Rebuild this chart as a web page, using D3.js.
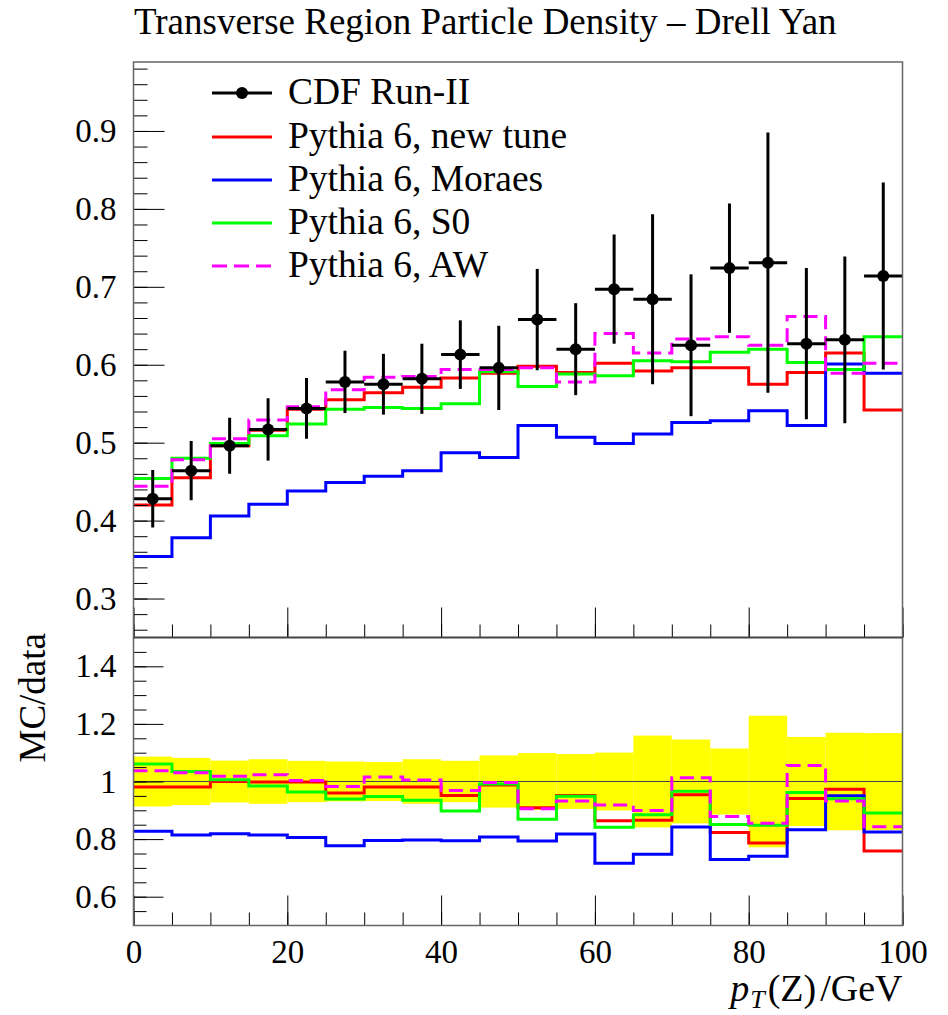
<!DOCTYPE html>
<html>
<head>
<meta charset="utf-8">
<script src="https://cdn.jsdelivr.net/npm/d3@7"></script>
<style>
  body { margin: 0; background: #fff; }
  svg text { font-family: "Liberation Serif", "DejaVu Serif", serif; fill: #000; }
</style>
</head>
<body>
<div id="chart"></div>
<script>
// pT(Z) bins, GeV
const binEdges = [0, 5, 10, 15, 20, 25, 30, 35, 40, 45, 50, 55, 60, 65, 70, 75, 80, 85, 90, 95, 100];

// CDF Run-II data
const dataVal = [0.428, 0.464, 0.496, 0.517, 0.544, 0.578, 0.575, 0.582, 0.613, 0.596,
                 0.658, 0.620, 0.697, 0.684, 0.625, 0.724, 0.731, 0.627, 0.632, 0.714];
const dataErr = [0.037, 0.038, 0.036, 0.040, 0.039, 0.040, 0.039, 0.045, 0.044, 0.054,
                 0.065, 0.059, 0.070, 0.109, 0.091, 0.083, 0.167, 0.097, 0.107, 0.120];

// MC predictions
const newTune = [0.420, 0.455, 0.496, 0.516, 0.543, 0.555, 0.564, 0.571, 0.583, 0.589,
                 0.598, 0.590, 0.602, 0.592, 0.596, 0.596, 0.575, 0.590, 0.615, 0.542];
const moraes  = [0.354, 0.378, 0.406, 0.421, 0.438, 0.449, 0.457, 0.464, 0.487, 0.481,
                 0.522, 0.507, 0.499, 0.511, 0.526, 0.528, 0.541, 0.522, 0.601, 0.589];
const s0      = [0.454, 0.480, 0.499, 0.509, 0.524, 0.543, 0.545, 0.544, 0.550, 0.591,
                 0.572, 0.588, 0.586, 0.605, 0.604, 0.616, 0.620, 0.603, 0.594, 0.636];
const aw      = [0.444, 0.478, 0.505, 0.529, 0.546, 0.568, 0.584, 0.585, 0.594, 0.594,
                 0.596, 0.578, 0.640, 0.615, 0.633, 0.636, 0.625, 0.662, 0.589, 0.602];

const seriesNames  = ["Pythia 6, new tune", "Pythia 6, Moraes", "Pythia 6, S0", "Pythia 6, AW"];
const seriesColors = ["#ff0000", "#0000ff", "#00ff00", "#ff00ff"];
const seriesVals   = [newTune, moraes, s0, aw];

const mainTicks  = [0.3, 0.4, 0.5, 0.6, 0.7, 0.8, 0.9];
const ratioTicks = [0.6, 0.8, 1, 1.2, 1.4];
const xTicks     = [0, 20, 40, 60, 80, 100];

const W = 948, H = 1015;
const L = 133.5, R = 902.5, T = 62, MID = 637.5, B = 925.5;

const x  = d3.scaleLinear([0, 100], [L, R]);
const yM = d3.scaleLinear([0.25, 0.9885], [MID, T]);
const yR = d3.scaleLinear([0.5, 1.5], [B, MID]);

const svg = d3.select('#chart').append('svg')
  .attr('width', W).attr('height', H);

const defs = svg.append('defs');
defs.append('clipPath').attr('id', 'clipM')
  .append('rect').attr('x', L).attr('y', T).attr('width', R - L).attr('height', MID - T);
defs.append('clipPath').attr('id', 'clipR')
  .append('rect').attr('x', L).attr('y', MID).attr('width', R - L).attr('height', B - MID);

// step histogram through curveStepAfter
function histLine(y) {
  return d3.line()
    .x(d => x(d[0]))
    .y(d => y(d[1]))
    .curve(d3.curveStepAfter);
}
function histPoints(vals) {
  const pts = vals.map((v, i) => [binEdges[i], v]);
  pts.push([binEdges[binEdges.length - 1], vals[vals.length - 1]]);
  return pts;
}

// ---- ratio panel ----
const gR = svg.append('g').attr('clip-path', 'url(#clipR)');

gR.selectAll('rect.band')
  .data(dataVal)
  .join('rect')
  .attr('class', 'band')
  .attr('x', (d, i) => x(binEdges[i]))
  .attr('width', (d, i) => x(binEdges[i + 1]) - x(binEdges[i]))
  .attr('y', (d, i) => yR(1 + dataErr[i] / d))
  .attr('height', (d, i) => yR(1 - dataErr[i] / d) - yR(1 + dataErr[i] / d))
  .attr('fill', '#ffff00');

gR.append('line')
  .attr('x1', L).attr('x2', R).attr('y1', yR(1)).attr('y2', yR(1))
  .attr('stroke', '#444').attr('stroke-width', 1.2);

seriesVals.forEach((vals, k) => {
  const ratio = vals.map((v, i) => v / dataVal[i]);
  gR.append('path')
    .attr('d', histLine(yR)(histPoints(ratio)))
    .attr('fill', 'none')
    .attr('stroke', seriesColors[k])
    .attr('stroke-width', 3)
    .attr('stroke-dasharray', k === 3 ? '14,7' : null);
});

// ---- main panel ----
const gM = svg.append('g').attr('clip-path', 'url(#clipM)');

seriesVals.forEach((vals, k) => {
  gM.append('path')
    .attr('d', histLine(yM)(histPoints(vals)))
    .attr('fill', 'none')
    .attr('stroke', seriesColors[k])
    .attr('stroke-width', 3)
    .attr('stroke-dasharray', k === 3 ? '14,7' : null);
});

const pts = gM.append('g')
  .selectAll('g')
  .data(dataVal)
  .join('g');
pts.append('line')
  .attr('x1', (d, i) => x((binEdges[i] + binEdges[i + 1]) / 2))
  .attr('x2', (d, i) => x((binEdges[i] + binEdges[i + 1]) / 2))
  .attr('y1', (d, i) => yM(d - dataErr[i]))
  .attr('y2', (d, i) => yM(d + dataErr[i]))
  .attr('stroke', '#000').attr('stroke-width', 3);
pts.append('line')
  .attr('x1', (d, i) => x(binEdges[i]))
  .attr('x2', (d, i) => x(binEdges[i + 1]))
  .attr('y1', d => yM(d)).attr('y2', d => yM(d))
  .attr('stroke', '#000').attr('stroke-width', 3);
pts.append('circle')
  .attr('cx', (d, i) => x((binEdges[i] + binEdges[i + 1]) / 2))
  .attr('cy', d => yM(d))
  .attr('r', 6)
  .attr('fill', '#000');

// ---- axes ----
function styleAxis(g) {
  g.select('.domain').remove();
  g.selectAll('line').attr('stroke', '#000').attr('stroke-width', 1);
  g.selectAll('text')
    .attr('font-size', 33)
    .attr('fill', '#000');
  g.attr('font-family', null).attr('font-size', null);
}

const fmt = d3.format('~g');

// main y
svg.append('g').attr('transform', `translate(${L},0)`)
  .call(d3.axisLeft(yM).tickValues(d3.range(13, 50).map(i => i * 0.02)).tickSize(-14).tickFormat(''))
  .call(styleAxis);
svg.append('g').attr('transform', `translate(${L},0)`)
  .call(d3.axisLeft(yM).tickValues(mainTicks).tickSize(-31).tickPadding(17).tickFormat(fmt))
  .call(styleAxis);

// ratio y
svg.append('g').attr('transform', `translate(${L},0)`)
  .call(d3.axisLeft(yR).tickValues(d3.range(11, 30).map(i => i * 0.05)).tickSize(-13).tickFormat(''))
  .call(styleAxis);
svg.append('g').attr('transform', `translate(${L},0)`)
  .call(d3.axisLeft(yR).tickValues(ratioTicks).tickSize(-30).tickPadding(17).tickFormat(fmt))
  .call(styleAxis);

// x ticks on both panels
[MID, B].forEach((yy, j) => {
  svg.append('g').attr('transform', `translate(0,${yy})`)
    .call(d3.axisBottom(x).tickValues(d3.range(0, 21).map(i => i * 5)).tickSize(-13).tickFormat(''))
    .call(styleAxis);
  svg.append('g').attr('transform', `translate(0,${yy})`)
    .call(d3.axisBottom(x).tickValues(xTicks).tickSize(-30).tickPadding(j === 1 ? 14 : 0)
      .tickFormat(j === 1 ? fmt : ''))
    .call(styleAxis);
});

// frames
svg.append('rect')
  .attr('x', L).attr('y', T).attr('width', R - L).attr('height', B - T)
  .attr('fill', 'none').attr('stroke', '#666').attr('stroke-width', 1.5);
svg.append('line')
  .attr('x1', L).attr('x2', R).attr('y1', MID).attr('y2', MID)
  .attr('stroke', '#444').attr('stroke-width', 2);

// ---- labels ----
svg.append('text')
  .attr('x', 134).attr('y', 34)
  .attr('font-size', 37)
  .text('Transverse Region Particle Density \u2013 Drell Yan');

svg.append('text')
  .attr('transform', `translate(45,633) rotate(-90)`)
  .attr('text-anchor', 'end')
  .attr('font-size', 37)
  .text('MC/data');

const xl = svg.append('text')
  .attr('x', R).attr('y', 1001)
  .attr('text-anchor', 'end')
  .attr('font-size', 38);
xl.append('tspan').attr('font-style', 'italic').text('p');
xl.append('tspan').attr('font-style', 'italic').attr('font-size', 26).attr('dx', 1).attr('dy', 7).text('T');
xl.append('tspan').attr('dy', -7).attr('dx', 3).text('(Z)');
xl.append('tspan').attr('dx', 4).text('/GeV');

// ---- legend ----
const legRows = [93, 137, 180, 223, 266];
const leg = svg.append('g');
leg.append('line')
  .attr('x1', 212).attr('x2', 272).attr('y1', legRows[0]).attr('y2', legRows[0])
  .attr('stroke', '#000').attr('stroke-width', 3);
leg.append('circle').attr('cx', 242).attr('cy', legRows[0]).attr('r', 6).attr('fill', '#000');
leg.append('text').attr('x', 288).attr('y', legRows[0] + 11).attr('font-size', 37.5).text('CDF Run-II');

seriesNames.forEach((name, k) => {
  const yy = legRows[k + 1];
  leg.append('line')
    .attr('x1', 212).attr('x2', 272).attr('y1', yy).attr('y2', yy)
    .attr('stroke', seriesColors[k]).attr('stroke-width', 3)
    .attr('stroke-dasharray', k === 3 ? '15,7' : null);
  leg.append('text').attr('x', 288).attr('y', yy + 11).attr('font-size', 37.5).text(name);
});
</script>
</body>
</html>
